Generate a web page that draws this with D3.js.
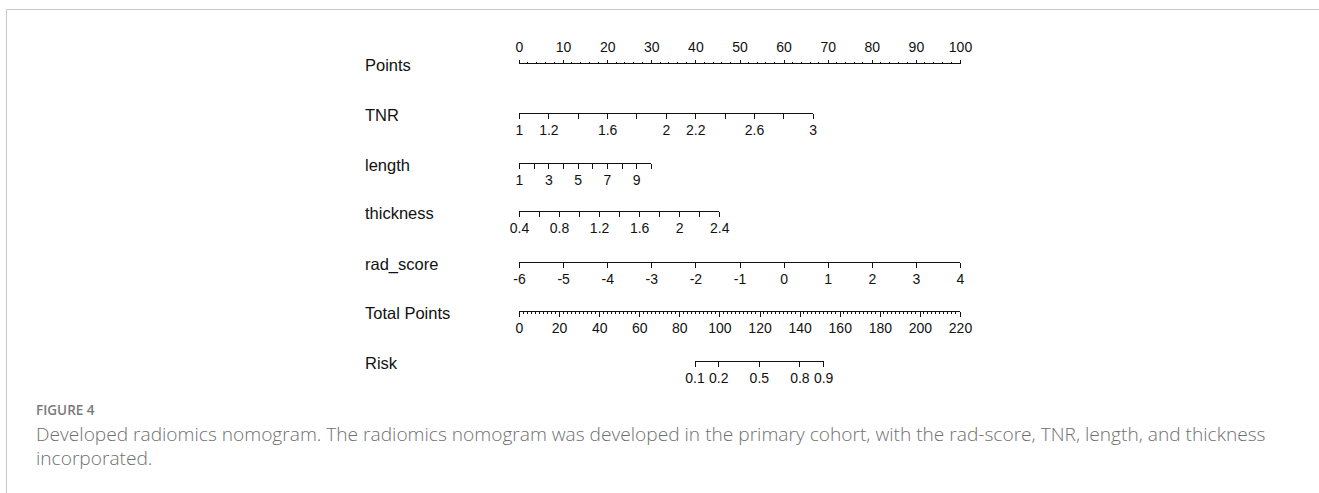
<!DOCTYPE html>
<html>
<head>
<meta charset="utf-8">
<script src="https://cdn.jsdelivr.net/npm/d3@7"></script>
<style>
  html, body { margin: 0; padding: 0; background: #fff; }
  svg { display: block; }
  .axis text { font-family: "Liberation Sans", Arial, sans-serif; fill: #111; }
  .axis path, .axis line { stroke: #111; stroke-width: 1; shape-rendering: crispEdges; }
</style>
</head>
<body>
<svg id="chart" width="1319" height="493"></svg>
<script>
// ---- nomogram definition ----
const rowNames = ["Points", "TNR", "length", "thickness", "rad_score", "Total Points", "Risk"];

const pointsTicks = [0, 10, 20, 30, 40, 50, 60, 70, 80, 90, 100];

const tnrTicks  = [1, 1.2, 1.4, 1.6, 1.8, 2, 2.2, 2.4, 2.6, 2.8, 3];
const tnrLabels = [1, 1.2, 1.6, 2, 2.2, 2.6, 3];

const lengthTicks  = [1, 2, 3, 4, 5, 6, 7, 8, 9, 10];
const lengthLabels = [1, 3, 5, 7, 9];

const thicknessTicks  = [0.4, 0.6, 0.8, 1, 1.2, 1.4, 1.6, 1.8, 2, 2.2, 2.4];
const thicknessLabels = [0.4, 0.8, 1.2, 1.6, 2, 2.4];

const radTicks  = [-6, -5, -4, -3, -2, -1, 0, 1, 2, 3, 4];
const radLabels = [-6, -5, -4, -3, -2, -1, 0, 1, 2, 3, 4];

// predictor ranges and the points scored at the top of each range (bottom scores 0)
const predictorMin = [1, 1, 0.4, -6];
const predictorMax = [3, 10, 2.4, 4];
const predictorPts = [66.6, 29.9, 45.4, 100];

const totalTicks = [0, 20, 40, 60, 80, 100, 120, 140, 160, 180, 200, 220];

const riskTicks = [0.1, 0.2, 0.5, 0.8, 0.9];
// total points where risk = 0.5, and total points per unit of log-odds
const riskMidPoints = 119.9;
const pointsPerLogit = 14.6;

// ---- layout ----
const svg = d3.select("#chart");
const left = 519, right = 960;
const rowY = [63.5, 113.5, 163.5, 211.5, 262.5, 311.5, 361.5];
const nameX = 365;
const tickFont = 14;

const x = d3.scaleLinear().domain([0, 100]).range([left, right]);
const xTotal = d3.scaleLinear().domain([0, 220]).range([left, right]);

// frame
svg.append("path")
  .attr("d", "M6.5,493 L6.5,9.5 L1319,9.5")
  .attr("fill", "none").attr("stroke", "#c9c9c9").attr("stroke-width", 1);

// row names
svg.append("g").selectAll("text").data(rowNames).join("text")
  .attr("x", nameX)
  .attr("y", (d, i) => rowY[i] + 1.5)
  .attr("dy", "0.35em")
  .attr("font-family", "Liberation Sans, Arial, sans-serif")
  .attr("font-size", 16.5)
  .attr("fill", "#111")
  .text(d => d);

const fmt = d => String(d);

function labelOnly(labels) {
  return d => labels.some(l => Math.abs(l - d) < 1e-9) ? fmt(d) : "";
}

function drawBottomAxis(scale, ticks, labels, y, major) {
  const g = svg.append("g").attr("class", "axis").attr("transform", `translate(0,${y})`);
  g.call(d3.axisBottom(scale).tickValues(ticks).tickSize(major).tickSizeOuter(0)
    .tickPadding(7).tickFormat(labelOnly(labels)));
  g.selectAll("text").attr("font-size", tickFont);
  g.select(".domain").attr("d", `M${scale.range()[0]},0H${scale.range()[1]}`);
  return g;
}

// Points row (labels above)
{
  const g = svg.append("g").attr("class", "axis").attr("transform", `translate(0,${rowY[0]})`);
  g.call(d3.axisTop(x).tickValues(pointsTicks).tickSize(4).tickSizeOuter(0)
    .tickPadding(8).tickFormat(fmt));
  g.selectAll("text").attr("font-size", tickFont);
  g.select(".domain").attr("d", `M${left},0H${right}`);
  const minor = d3.range(0, 101, 2).filter(v => v % 10 !== 0);
  g.append("g").selectAll("line").data(minor).join("line")
    .attr("x1", d => x(d)).attr("x2", d => x(d)).attr("y1", 0).attr("y2", -2);
}

// predictor rows
const predictorTicks = [tnrTicks, lengthTicks, thicknessTicks, radTicks];
const predictorLabels = [tnrLabels, lengthLabels, thicknessLabels, radLabels];
predictorTicks.forEach((ticks, i) => {
  const s = d3.scaleLinear()
    .domain([predictorMin[i], predictorMax[i]])
    .range([x(0), x(predictorPts[i])]);
  drawBottomAxis(s, ticks, predictorLabels[i], rowY[i + 1], 5);
});

// Total Points row
{
  const g = drawBottomAxis(xTotal, totalTicks, totalTicks, rowY[5], 5);
  const minor = d3.range(0, 221, 2).filter(v => v % 20 !== 0);
  g.append("g").selectAll("line").data(minor).join("line")
    .attr("x1", d => xTotal(d)).attr("x2", d => xTotal(d)).attr("y1", 0).attr("y2", 2);
}

// Risk row: probability -> log-odds -> total points
{
  const logit = p => Math.log(p / (1 - p));
  const riskPts = p => riskMidPoints + pointsPerLogit * logit(p);
  const lo = xTotal(riskPts(riskTicks[0]));
  const hi = xTotal(riskPts(riskTicks[riskTicks.length - 1]));
  const g = svg.append("g").attr("class", "axis").attr("transform", `translate(0,${rowY[6]})`);
  g.append("path").attr("class", "domain").attr("d", `M${lo},0H${hi}`).attr("fill", "none");
  const t = g.selectAll(".tick").data(riskTicks).join("g")
    .attr("class", "tick")
    .attr("transform", d => `translate(${xTotal(riskPts(d))},0)`);
  t.append("line").attr("y2", 5);
  t.append("text").attr("y", 12).attr("dy", "0.71em")
    .attr("text-anchor", "middle").attr("font-size", tickFont).text(fmt);
}

// caption
const capFont = "'Open Sans', Lato, sans-serif";
svg.append("text")
  .attr("x", 36).attr("y", 415)
  .attr("font-family", capFont)
  .attr("font-size", 13.5).attr("font-weight", 600)
  .attr("fill", "#7a7a7a")
  .text("FIGURE 4");

const cap1 = svg.append("text")
  .attr("x", 36).attr("y", 441)
  .attr("font-family", capFont)
  .attr("font-size", 17)
  .attr("font-weight", 300)
  .attr("fill", "#6f6f6f")
  .text("Developed radiomics nomogram. The radiomics nomogram was developed in the primary cohort, with the rad-score, TNR, length, and thickness");
// size the caption so the first line spans the text column (x 36 to 1267)
const w = cap1.node().getComputedTextLength();
const capSize = 17 * 1231 / w;
cap1.attr("font-size", capSize);
svg.append("text")
  .attr("x", 36).attr("y", 465)
  .attr("font-family", capFont)
  .attr("font-size", capSize)
  .attr("font-weight", 300)
  .attr("fill", "#6f6f6f")
  .text("incorporated.");
</script>
</body>
</html>
